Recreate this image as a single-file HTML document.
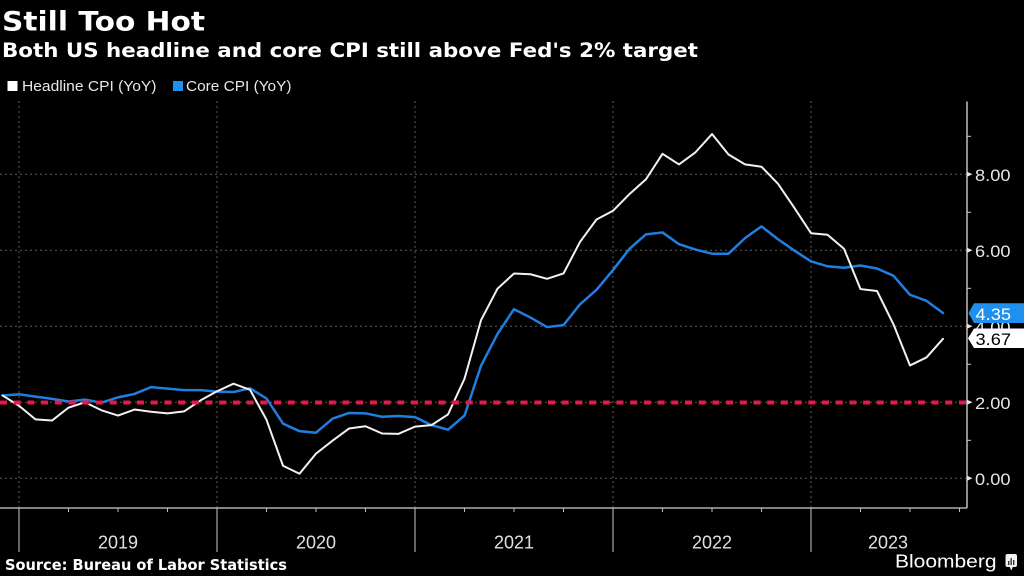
<!DOCTYPE html>
<html><head><meta charset="utf-8">
<style>
html,body{margin:0;padding:0;background:#000;}
svg{display:block;}
</style></head>
<body>
<svg width="1024" height="576" viewBox="0 0 1024 576" xmlns="http://www.w3.org/2000/svg">
<rect width="1024" height="576" fill="#000"/>
<!-- titles -->
<text x="2" y="30.5" font-family="DejaVu Sans, sans-serif" font-weight="bold" font-size="27" fill="#fff" textLength="203" lengthAdjust="spacingAndGlyphs">Still Too Hot</text>
<text x="2" y="56.8" font-family="DejaVu Sans, sans-serif" font-weight="bold" font-size="19.5" fill="#fff" textLength="696" lengthAdjust="spacingAndGlyphs">Both US headline and core CPI still above Fed's 2% target</text>
<!-- legend -->
<rect x="7.5" y="81" width="10" height="10" fill="#fff"/>
<text x="22" y="91" font-family="Liberation Sans, sans-serif" font-size="15" fill="#e8e8e8" textLength="134.5" lengthAdjust="spacingAndGlyphs">Headline CPI (YoY)</text>
<rect x="173" y="81" width="10" height="10" fill="#1f8ff0"/>
<text x="186" y="91" font-family="Liberation Sans, sans-serif" font-size="15" fill="#e8e8e8" textLength="105.5" lengthAdjust="spacingAndGlyphs">Core CPI (YoY)</text>

<!-- grid -->
<g stroke="#5a5a5a" stroke-width="1" stroke-dasharray="2 3" fill="none">
<line x1="0" y1="174.3" x2="966" y2="174.3"/>
<line x1="0" y1="250.3" x2="966" y2="250.3"/>
<line x1="0" y1="326.3" x2="966" y2="326.3"/>
<line x1="0" y1="402.3" x2="966" y2="402.3"/>
<line x1="0" y1="478.3" x2="966" y2="478.3"/>
<line x1="19" y1="101" x2="19" y2="508"/>
<line x1="217" y1="101" x2="217" y2="508"/>
<line x1="415" y1="101" x2="415" y2="508"/>
<line x1="613" y1="101" x2="613" y2="508"/>
<line x1="811" y1="101" x2="811" y2="508"/>
</g>

<!-- series -->
<g transform="translate(35.5 478.3) scale(16.5 -38)" fill="none" stroke-linejoin="round" stroke-linecap="round">
<polyline vector-effect="non-scaling-stroke" stroke="#1f7fe0" stroke-width="2.5" points="-2,2.18 -1,2.21 0,2.15 1,2.09 2,2.02 3,2.07 4,1.99 5,2.13 6,2.22 7,2.40 8,2.36 9,2.32 10,2.32 11,2.28 12,2.27 13,2.37 14,2.10 15,1.44 16,1.24 17,1.20 18,1.57 19,1.72 20,1.71 21,1.62 22,1.64 23,1.61 24,1.40 25,1.28 26,1.65 27,2.96 28,3.80 29,4.45 30,4.23 31,3.98 32,4.03 33,4.58 34,4.96 35,5.48 36,6.04 37,6.42 38,6.47 39,6.16 40,6.02 41,5.91 42,5.91 43,6.32 44,6.63 45,6.29 46,5.99 47,5.71 48,5.58 49,5.54 50,5.60 51,5.52 52,5.33 53,4.83 54,4.67 55,4.35"/>
<polyline vector-effect="non-scaling-stroke" stroke="#f2f2f2" stroke-width="2" points="-2,2.18 -1,1.91 0,1.55 1,1.52 2,1.86 3,2.00 4,1.79 5,1.65 6,1.81 7,1.75 8,1.71 9,1.76 10,2.05 11,2.29 12,2.49 13,2.33 14,1.54 15,0.33 16,0.12 17,0.65 18,0.99 19,1.31 20,1.37 21,1.18 22,1.17 23,1.36 24,1.40 25,1.68 26,2.62 27,4.16 28,4.99 29,5.39 30,5.37 31,5.25 32,5.39 33,6.22 34,6.81 35,7.04 36,7.48 37,7.87 38,8.54 39,8.26 40,8.58 41,9.06 42,8.52 43,8.26 44,8.20 45,7.75 46,7.11 47,6.45 48,6.41 49,6.04 50,4.98 51,4.93 52,4.05 53,2.97 54,3.18 55,3.67"/>
</g>

<!-- 2% target -->
<line x1="0" y1="402.5" x2="966" y2="402.5" stroke="#e5194b" stroke-width="4" stroke-dasharray="7 6.7"/>

<!-- x axis -->
<line x1="0" y1="508" x2="967" y2="508" stroke="#cfcfcf" stroke-width="1.2"/>
<g stroke="#a8a8a8" stroke-width="1.2">
<line x1="19" y1="508" x2="19" y2="552"/>
<line x1="217" y1="508" x2="217" y2="552"/>
<line x1="415" y1="508" x2="415" y2="552"/>
<line x1="613" y1="508" x2="613" y2="552"/>
<line x1="811" y1="508" x2="811" y2="552"/>
</g>
<g stroke="#bdbdbd" stroke-width="1">
<line x1="68.5" y1="508" x2="68.5" y2="512"/>
<line x1="118" y1="508" x2="118" y2="512"/>
<line x1="167.5" y1="508" x2="167.5" y2="512"/>
<line x1="266.5" y1="508" x2="266.5" y2="512"/>
<line x1="316" y1="508" x2="316" y2="512"/>
<line x1="365.5" y1="508" x2="365.5" y2="512"/>
<line x1="464.5" y1="508" x2="464.5" y2="512"/>
<line x1="514" y1="508" x2="514" y2="512"/>
<line x1="563.5" y1="508" x2="563.5" y2="512"/>
<line x1="662.5" y1="508" x2="662.5" y2="512"/>
<line x1="712" y1="508" x2="712" y2="512"/>
<line x1="761.5" y1="508" x2="761.5" y2="512"/>
<line x1="860.5" y1="508" x2="860.5" y2="512"/>
<line x1="910" y1="508" x2="910" y2="512"/>
<line x1="959.5" y1="508" x2="959.5" y2="512"/>
</g>
<g font-family="Liberation Sans, sans-serif" font-size="18.5" fill="#e0e0e0" text-anchor="middle">
<text x="118" y="548.3" textLength="40" lengthAdjust="spacingAndGlyphs">2019</text>
<text x="316" y="548.3" textLength="40" lengthAdjust="spacingAndGlyphs">2020</text>
<text x="514" y="548.3" textLength="40" lengthAdjust="spacingAndGlyphs">2021</text>
<text x="712" y="548.3" textLength="40" lengthAdjust="spacingAndGlyphs">2022</text>
<text x="888" y="548.3" textLength="40" lengthAdjust="spacingAndGlyphs">2023</text>
</g>

<!-- y axis -->
<line x1="967" y1="101.5" x2="967" y2="508" stroke="#dcdcdc" stroke-width="1.3"/>
<g stroke="#cfcfcf" stroke-width="1">
<line x1="967" y1="136.3" x2="971" y2="136.3"/>
<line x1="967" y1="212.3" x2="971" y2="212.3"/>
<line x1="967" y1="288.3" x2="971" y2="288.3"/>
<line x1="967" y1="364.3" x2="971" y2="364.3"/>
<line x1="967" y1="440.3" x2="971" y2="440.3"/>
</g>
<g fill="#e6e6e6">
<polygon points="967,171.8 972.5,174.3 967,176.8"/>
<polygon points="967,247.8 972.5,250.3 967,252.8"/>
<polygon points="967,323.8 972.5,326.3 967,328.8"/>
<polygon points="967,399.8 972.5,402.3 967,404.8"/>
<polygon points="967,475.8 972.5,478.3 967,480.8"/>
</g>
<g font-family="Liberation Sans, sans-serif" font-size="17" fill="#e6e6e6">
<text x="975" y="180.8" textLength="35.5" lengthAdjust="spacingAndGlyphs">8.00</text>
<text x="975" y="256.8" textLength="35.5" lengthAdjust="spacingAndGlyphs">6.00</text>
<text x="975" y="332.8" textLength="35.5" lengthAdjust="spacingAndGlyphs">4.00</text>
<text x="975" y="408.8" textLength="35.5" lengthAdjust="spacingAndGlyphs">2.00</text>
<text x="975" y="484.8" textLength="35.5" lengthAdjust="spacingAndGlyphs">0.00</text>
</g>

<!-- value boxes -->
<polygon points="968.5,313.2 974,303.3 1024,303.3 1024,323 974,323" fill="#1f8ff0"/>
<text x="975.5" y="319.8" font-family="Liberation Sans, sans-serif" font-size="17" fill="#fff" textLength="35.5" lengthAdjust="spacingAndGlyphs">4.35</text>
<polygon points="968,338.3 974,328.5 1024,328.5 1024,348 974,348" fill="#fff"/>
<text x="975.5" y="345" font-family="Liberation Sans, sans-serif" font-size="17" fill="#000" textLength="35.5" lengthAdjust="spacingAndGlyphs">3.67</text>

<!-- footer -->
<text x="5" y="570" font-family="DejaVu Sans, sans-serif" font-weight="bold" font-size="15" fill="#fff" textLength="282" lengthAdjust="spacingAndGlyphs">Source: Bureau of Labor Statistics</text>
<text x="895" y="567.3" font-family="Liberation Sans, sans-serif" font-size="18.5" fill="#fff" textLength="101.5" lengthAdjust="spacingAndGlyphs">Bloomberg</text>
<rect x="1005.5" y="554" width="11.5" height="13" rx="2" fill="#f2f2f2"/>
<polygon points="1009.5,566.5 1011.3,570.5 1013,566.5" fill="#f2f2f2"/>
<g fill="#333">
<rect x="1008" y="561" width="1.4" height="4"/>
<rect x="1010.5" y="558" width="1.4" height="7"/>
<rect x="1013" y="560" width="1.4" height="5"/>
</g>
</svg>
</body></html>
